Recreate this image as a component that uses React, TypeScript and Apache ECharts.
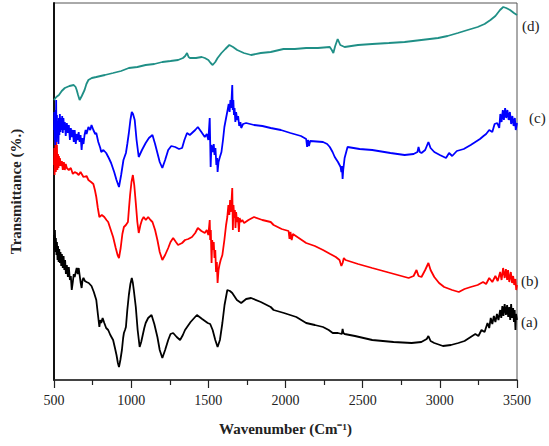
import React, { useEffect, useRef } from "react";
import * as echarts from "echarts";

// FTIR spectra: [wavenumber (cm-1), transmittance (arbitrary offset units)]
const spectrumA: [number, number][] = [
  [500, 145], [503, 130], [506, 150], [509, 128], [512, 142], [516, 125], [519, 138], [523, 120],
  [526, 134], [530, 118], [534, 131], [538, 117], [542, 128], [547, 114], [551, 126], [557, 112],
  [562, 124], [567, 110], [572, 120], [577, 106], [583, 115], [590, 103], [596, 113], [603, 100],
  [609, 104], [615, 90], [622, 98], [628, 106], [634, 103], [641, 108], [647, 112], [654, 106],
  [660, 112], [666, 105], [672, 98], [679, 92], [685, 100], [691, 102], [700, 99], [711, 98],
  [725, 97], [743, 94], [758, 88], [774, 80], [785, 65], [794, 53], [800, 60], [806, 57],
  [815, 62], [826, 57], [838, 52], [851, 50], [865, 45], [883, 40], [895, 32], [905, 25],
  [914, 17], [921, 13], [930, 20], [940, 30], [948, 42], [953, 47], [960, 50], [966, 53],
  [975, 70], [985, 85], [995, 96], [1004, 102], [1011, 97], [1017, 90], [1030, 73], [1042, 50],
  [1055, 33], [1065, 38], [1075, 45], [1085, 52], [1094, 57], [1110, 62], [1132, 65], [1150, 56],
  [1170, 43], [1185, 30], [1202, 22], [1220, 30], [1240, 40], [1255, 46], [1272, 47], [1295, 43],
  [1317, 40], [1335, 45], [1349, 50], [1385, 58], [1426, 65], [1460, 61], [1496, 57], [1512, 56],
  [1528, 50], [1545, 40], [1560, 33], [1575, 40], [1591, 57], [1605, 75], [1623, 90], [1640, 89],
  [1655, 87], [1685, 80], [1713, 77], [1745, 81], [1777, 82], [1840, 78], [1904, 73], [1923, 70],
  [1990, 67], [2070, 63], [2134, 57], [2190, 55], [2243, 53], [2280, 50], [2306, 47], [2340, 47],
  [2365, 46], [2370, 51], [2375, 47], [2383, 46], [2450, 44], [2562, 40], [2700, 38], [2817, 37],
  [2880, 38], [2915, 41], [2926, 44], [2940, 39], [2964, 37], [3020, 34], [3072, 35], [3120, 37],
  [3160, 39], [3200, 43], [3230, 46], [3250, 44], [3270, 50], [3290, 48], [3309, 57], [3320, 52],
  [3330, 62], [3340, 56], [3350, 64], [3360, 58], [3370, 66], [3380, 60], [3391, 70], [3398, 62],
  [3405, 74], [3412, 64], [3420, 76], [3428, 65], [3436, 75], [3443, 63], [3450, 73], [3456, 60],
  [3462, 76], [3468, 62], [3475, 72], [3480, 58], [3485, 70], [3490, 50], [3494, 66], [3500, 60],
];

const spectrumB: [number, number][] = [
  [500, 215], [502, 232], [504, 205], [506, 228], [508, 210], [510, 240], [512, 208], [514, 250],
  [516, 212], [519, 235], [522, 210], [526, 226], [529, 212], [532, 224], [535, 214], [538, 222],
  [545, 214], [551, 219], [557, 210], [564, 218], [570, 210], [576, 216], [583, 212], [596, 210],
  [609, 212], [622, 206], [634, 208], [647, 207], [660, 205], [672, 208], [691, 203], [711, 204],
  [723, 200], [740, 198], [755, 196], [765, 190], [774, 183], [784, 172], [794, 163], [810, 165],
  [826, 163], [840, 160], [851, 158], [868, 150], [883, 143], [900, 132], [912, 125], [921, 122],
  [932, 132], [943, 146], [953, 153], [966, 155], [979, 158], [986, 172], [993, 185], [1002, 198],
  [1011, 205], [1020, 195], [1030, 177], [1040, 158], [1049, 147], [1060, 155], [1070, 160], [1081, 163],
  [1095, 160], [1110, 163], [1125, 160], [1138, 158], [1155, 150], [1170, 140], [1185, 128], [1202, 120],
  [1220, 125], [1240, 132], [1255, 138], [1272, 142], [1290, 138], [1304, 135], [1330, 137], [1349, 140],
  [1370, 141], [1394, 143], [1415, 147], [1432, 152], [1455, 149], [1477, 147], [1490, 150], [1500, 145],
  [1509, 160], [1512, 140], [1516, 150], [1521, 117], [1525, 140], [1530, 130], [1535, 138], [1540, 122],
  [1545, 130], [1550, 108], [1555, 118], [1560, 97], [1566, 110], [1572, 115], [1580, 120], [1591, 125],
  [1604, 140], [1615, 155], [1623, 163], [1630, 175], [1636, 165], [1641, 180], [1645, 168], [1650, 178],
  [1655, 192], [1659, 150], [1663, 175], [1668, 162], [1672, 170], [1676, 152], [1680, 168], [1686, 158],
  [1692, 163], [1698, 148], [1703, 162], [1710, 158], [1720, 160], [1732, 157], [1760, 160], [1796, 163],
  [1850, 160], [1904, 158], [1923, 155], [1975, 151], [2020, 149], [2026, 141], [2032, 148], [2040, 140],
  [2048, 146], [2134, 137], [2190, 134], [2243, 130], [2290, 126], [2326, 123], [2350, 120], [2362, 114],
  [2370, 117], [2378, 122], [2389, 120], [2470, 116], [2562, 112], [2680, 107], [2798, 102], [2830, 104],
  [2849, 110], [2862, 104], [2881, 103], [2905, 110], [2926, 117], [2940, 110], [2964, 103], [2995, 97],
  [3028, 93], [3080, 90], [3123, 88], [3160, 91], [3200, 93], [3245, 95], [3280, 98], [3300, 96],
  [3320, 102], [3340, 98], [3360, 104], [3375, 99], [3391, 108], [3400, 100], [3410, 112], [3420, 102],
  [3428, 111], [3436, 100], [3442, 110], [3450, 98], [3460, 108], [3468, 97], [3475, 104], [3482, 95],
  [3490, 101], [3495, 90], [3500, 95],
];

const spectrumC: [number, number][] = [
  [500, 250], [502, 268], [504, 240], [506, 262], [508, 235], [510, 270], [512, 245], [514, 280],
  [516, 238], [519, 265], [522, 242], [526, 258], [529, 236], [532, 262], [535, 245], [538, 266],
  [542, 248], [545, 262], [549, 250], [553, 264], [557, 247], [561, 262], [566, 250], [570, 258],
  [576, 244], [583, 257], [590, 247], [596, 255], [603, 240], [609, 252], [615, 243], [622, 250],
  [628, 238], [634, 250], [641, 236], [647, 246], [654, 240], [660, 248], [666, 238], [672, 245],
  [679, 230], [685, 242], [691, 236], [698, 245], [705, 250], [711, 246], [723, 253], [735, 250],
  [743, 255], [755, 250], [767, 246], [774, 247], [787, 238], [800, 232], [806, 228], [820, 230],
  [838, 227], [855, 222], [870, 217], [890, 208], [905, 200], [921, 193], [935, 205], [950, 220],
  [966, 227], [975, 236], [985, 247], [995, 260], [1004, 268], [1012, 266], [1023, 260], [1035, 240],
  [1049, 223], [1070, 230], [1094, 237], [1115, 242], [1138, 245], [1155, 236], [1170, 227], [1185, 218],
  [1202, 212], [1220, 220], [1240, 230], [1260, 234], [1285, 233], [1310, 231], [1330, 232], [1345, 240],
  [1362, 247], [1380, 245], [1394, 247], [1415, 250], [1432, 253], [1455, 248], [1477, 243], [1490, 246],
  [1500, 240], [1509, 262], [1512, 238], [1515, 213], [1520, 235], [1528, 228], [1535, 236], [1540, 225],
  [1546, 232], [1552, 215], [1557, 222], [1560, 208], [1566, 218], [1573, 222], [1585, 228], [1595, 240],
  [1604, 253], [1615, 262], [1625, 270], [1632, 276], [1638, 268], [1643, 280], [1648, 272], [1655, 295],
  [1658, 270], [1662, 280], [1666, 265], [1670, 272], [1675, 258], [1680, 268], [1687, 260], [1693, 264],
  [1700, 254], [1708, 258], [1713, 252], [1725, 256], [1745, 257], [1796, 255], [1850, 254], [1904, 252],
  [1970, 250], [2032, 247], [2100, 244], [2134, 241], [2140, 233], [2146, 240], [2152, 234], [2160, 239],
  [2243, 238], [2270, 236], [2287, 233], [2305, 228], [2319, 223], [2340, 218], [2357, 213], [2362, 208],
  [2366, 214], [2370, 201], [2374, 210], [2383, 222], [2402, 233], [2480, 231], [2562, 230], [2680, 227],
  [2772, 225], [2830, 226], [2855, 228], [2862, 233], [2870, 228], [2881, 227], [2905, 230], [2926, 238],
  [2940, 232], [2964, 228], [3000, 225], [3040, 222], [3060, 227], [3080, 224], [3110, 229], [3155, 231],
  [3200, 235], [3230, 238], [3260, 241], [3283, 244], [3300, 246], [3320, 250], [3340, 248], [3355, 256],
  [3372, 257], [3385, 252], [3392, 266], [3400, 258], [3408, 270], [3415, 260], [3423, 272], [3430, 262],
  [3438, 270], [3446, 260], [3454, 268], [3462, 256], [3470, 264], [3478, 254], [3486, 262], [3492, 250],
  [3500, 257],
];

const spectrumD: [number, number][] = [
  [500, 280], [515, 283], [532, 285], [550, 289], [570, 292], [600, 294], [628, 295], [640, 293],
  [647, 290], [656, 285], [666, 280], [680, 284], [698, 290], [710, 296], [723, 300], [745, 302],
  [774, 303], [830, 305], [883, 307], [935, 309], [985, 312], [1040, 313], [1094, 315], [1150, 316],
  [1202, 318], [1255, 319], [1304, 320], [1336, 322], [1350, 324], [1362, 327], [1372, 323], [1381, 322],
  [1420, 322], [1457, 323], [1477, 322], [1500, 320], [1515, 317], [1528, 315], [1545, 318], [1560, 322],
  [1585, 327], [1610, 331], [1636, 335], [1660, 333], [1687, 330], [1730, 327], [1777, 325], [1840, 327],
  [1904, 328], [1987, 331], [2060, 331], [2134, 332], [2210, 332], [2287, 333], [2300, 330], [2310, 327],
  [2322, 334], [2338, 341], [2355, 335], [2383, 333], [2470, 335], [2562, 336], [2670, 337], [2772, 338],
  [2880, 340], [2989, 342], [3050, 344], [3117, 347], [3180, 350], [3245, 353], [3290, 356], [3328, 360],
  [3360, 364], [3390, 370], [3411, 373], [3430, 372], [3455, 370], [3480, 367], [3500, 365],
];

const seriesNames = ["(a)", "(b)", "(c)", "(d)"];
const seriesColors = ["#000000", "#ff0000", "#0000ff", "#1f8f86"];
const xTicks = [500, 1000, 1500, 2000, 2500, 3000, 3500];

const SERIF = "Liberation Serif";

export default function App() {
  const ref = useRef<HTMLDivElement>(null);

  useEffect(() => {
    if (!ref.current) return;
    const chart = echarts.init(ref.current, null, { renderer: "svg" });
    const data = [spectrumA, spectrumB, spectrumC, spectrumD];
    const labelStyle = (text: string) => ({
      text,
      fontFamily: SERIF,
      fontSize: 15,
      fill: "#222",
    });
    chart.setOption({
      animation: false,
      backgroundColor: "#ffffff",
      textStyle: { fontFamily: SERIF },
      grid: {
        left: 47,
        right: 32,
        top: 3,
        bottom: 66,
        show: true,
        borderColor: "#555",
        borderWidth: 1,
      },
      xAxis: {
        type: "value",
        min: xTicks[0],
        max: xTicks[xTicks.length - 1],
        interval: 500,
        axisLine: { lineStyle: { color: "#222", width: 1.5 } },
        axisTick: { show: true, inside: false, length: 8, lineStyle: { color: "#222", width: 1.2 } },
        minorTick: { show: true, splitNumber: 2, length: 5, lineStyle: { color: "#222", width: 1.2 } },
        splitLine: { show: false },
        axisLabel: {
          color: "#222",
          fontFamily: SERIF,
          fontSize: 14,
          margin: 13,
          formatter: (v: number) => String(v),
        },
        name: "Wavenumber (Cm\u207B\u00B9)",
        nameLocation: "middle",
        nameGap: 41,
        nameTextStyle: { color: "#222", fontFamily: SERIF, fontSize: 15, fontWeight: "bold" },
      },
      yAxis: {
        type: "value",
        min: 0,
        max: 377,
        axisLine: { show: true, lineStyle: { color: "#111", width: 2 } },
        axisTick: { show: false },
        axisLabel: { show: false },
        splitLine: { show: false },
        name: "Transmittance (%.)",
        nameLocation: "middle",
        nameGap: 31,
        nameTextStyle: { color: "#222", fontFamily: SERIF, fontSize: 15, fontWeight: "bold" },
      },
      series: data.map((d, i) => ({
        name: seriesNames[i],
        type: "line",
        data: d,
        showSymbol: false,
        symbol: "none",
        lineStyle: { color: seriesColors[i], width: 1.8 },
        z: 3,
      })),
      graphic: [
        { type: "text", left: 522, top: 18, style: labelStyle("(d)") },
        { type: "text", left: 529, top: 110, style: labelStyle("(c)") },
        { type: "text", left: 521, top: 273, style: labelStyle("(b)") },
        { type: "text", left: 521, top: 314, style: labelStyle("(a)") },
      ],
    });
    return () => chart.dispose();
  }, []);

  return <div ref={ref} style={{ width: 549, height: 446, position: "absolute", left: 0, top: 0 }} />;
}
